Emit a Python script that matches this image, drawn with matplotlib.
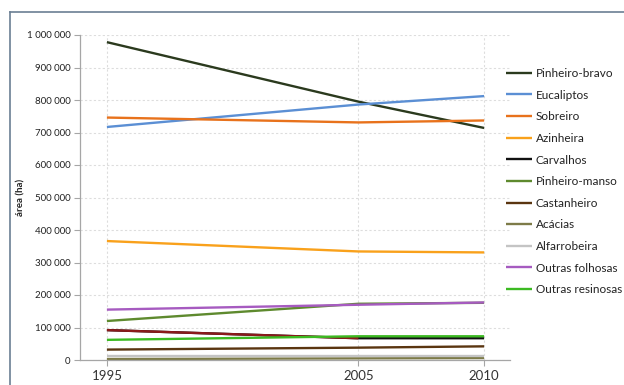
import matplotlib
matplotlib.use("Agg")
import matplotlib.pyplot as plt
from matplotlib.lines import Line2D
from matplotlib.ticker import FuncFormatter

plt.rcParams['font.family'] = ['Lato', 'DejaVu Sans']

years = [1995, 2005, 2010]
species = ["Pinheiro-bravo", "Eucaliptos", "Sobreiro", "Azinheira", "Carvalhos",
           "Pinheiro-manso", "Castanheiro", "Acácias", "Alfarrobeira",
           "Outras folhosas", "Outras resinosas"]
pinheiro_bravo = [978000, 795000, 714000]
eucaliptos = [717000, 786000, 812000]
sobreiro = [746000, 731000, 737000]
azinheira = [366000, 334000, 331000]
carvalhos = [92000, 67000, 67000]
pinheiro_manso = [120000, 173000, 176000]
castanheiro = [32000, 38000, 42000]
acacias = [3000, 5000, 6000]
alfarrobeira = [12000, 12000, 12000]
outras_folhosas = [155000, 170000, 177000]
outras_resinosas = [62000, 73000, 73000]
series = [pinheiro_bravo, eucaliptos, sobreiro, azinheira, carvalhos,
          pinheiro_manso, castanheiro, acacias, alfarrobeira,
          outras_folhosas, outras_resinosas]
colors = ["#2b3a1e", "#5b8fd4", "#e8721c", "#f9a11b", "#111111",
          "#5e8a2e", "#5a3510", "#7d7b48", "#c4c4c4", "#a65bc0", "#3cba22"]
yticks = [0, 100000, 200000, 300000, 400000, 500000, 600000, 700000,
          800000, 900000, 1000000]
xticks = [1995, 2005, 2010]

W, H = 624, 385
fig = plt.figure(figsize=(W / 100, H / 100), dpi=100)
ax = fig.add_axes([80 / W, 1 - 360 / H, (510 - 80) / W, (360 - 35) / H])

for name, vals, c in zip(species, series, colors):
    ax.plot(years, vals, color=c, lw=1.7, label=name, solid_capstyle='butt')
    if name == "Carvalhos":
        ax.plot(years[:2], vals[:2], color="#8a1a1a", lw=1.7, solid_capstyle='butt')

ax.set_xlim(1993.93, 2011.03)
ax.set_ylim(0, 1000000)
ax.set_xticks(xticks)
ax.set_yticks(yticks)
ax.yaxis.set_major_formatter(FuncFormatter(lambda v, p: f"{int(v):,}".replace(",", " ")))
ax.grid(True, color="#dddddd", lw=0.8, linestyle=(0, (2, 2)))
ax.set_axisbelow(True)
for s in ["top", "right"]:
    ax.spines[s].set_visible(False)
for s in ["left", "bottom"]:
    ax.spines[s].set_color("#a6a6a6")
    ax.spines[s].set_linewidth(0.9)
ax.tick_params(axis="y", labelsize=7, length=4, width=0.8, color="#a6a6a6", pad=3, labelcolor="#222222")
ax.tick_params(axis="x", labelsize=9.5, length=4, width=0.8, color="#a6a6a6", pad=3, labelcolor="#333333")
fig.text(21 / W, 1 - 197 / H, "área (ha)", rotation=90, ha="center", va="center",
         fontsize=7, fontweight="bold", color="#222222")

leg = fig.legend(loc="upper left", bbox_to_anchor=(506 / W, 1 - 68 / H),
                 frameon=False, fontsize=8.5, handlelength=2.2, handletextpad=0.3,
                 labelspacing=0.9, borderpad=0, borderaxespad=0)
for t in leg.get_texts():
    t.set_color("#222222")

fig.add_artist(Line2D([10 / W, 1], [1 - 12 / H, 1 - 12 / H], color="#6b7f94", lw=1.2,
                      transform=fig.transFigure))
fig.add_artist(Line2D([10 / W, 10 / W], [0, 1 - 12 / H], color="#6b7f94", lw=1.2,
                      transform=fig.transFigure))

fig.savefig("out.png", dpi=100)
